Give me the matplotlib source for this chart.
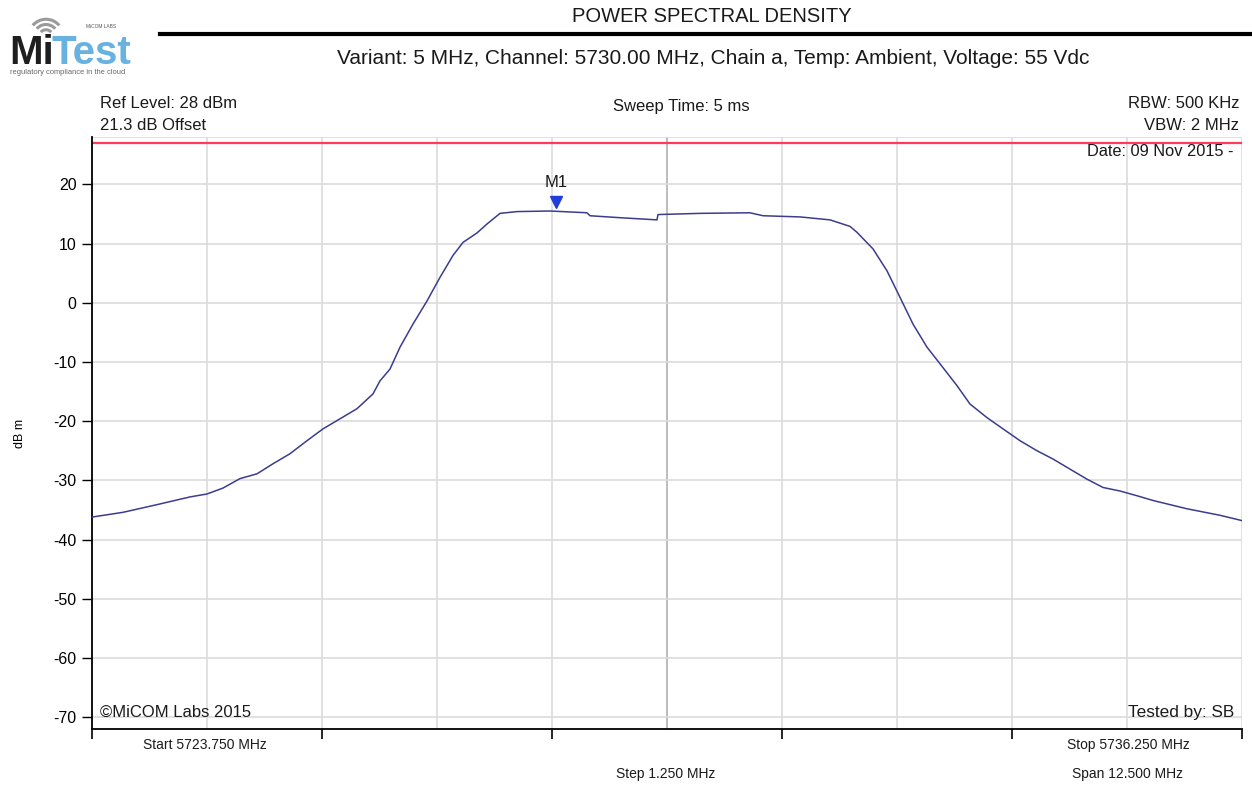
import matplotlib
matplotlib.use('Agg')
import matplotlib.pyplot as plt
from matplotlib.lines import Line2D
from matplotlib.patches import Arc
import matplotlib.transforms as mtransforms

plt.rcParams['font.family'] = ['Liberation Sans', 'DejaVu Sans']

# trace (MHz, dBm)
freq = [5723.750, 5724.087, 5724.457, 5724.815, 5725.000, 5725.174, 5725.359,
        5725.543, 5725.717, 5725.902, 5726.087, 5726.261, 5726.446, 5726.630,
        5726.804, 5726.880, 5726.989, 5727.098, 5727.239, 5727.391, 5727.533,
        5727.674, 5727.783, 5727.935, 5728.043, 5728.185, 5728.370, 5728.728,
        5729.130, 5729.163, 5729.457, 5729.891, 5729.902, 5730.359, 5730.902,
        5731.043, 5731.446, 5731.772, 5731.989, 5732.065, 5732.239, 5732.391,
        5732.533, 5732.674, 5732.826, 5732.967, 5733.152, 5733.293, 5733.478,
        5733.652, 5733.837, 5734.022, 5734.196, 5734.380, 5734.565, 5734.739,
        5734.924, 5735.109, 5735.283, 5735.652, 5736.011, 5736.250]
level = [-36.2, -35.4, -34.1, -32.8, -32.3, -31.3, -29.7,
         -28.9, -27.2, -25.5, -23.3, -21.3, -19.6, -17.9,
         -15.4, -13.2, -11.2, -7.5, -3.6, 0.3, 4.3,
         8.0, 10.2, 11.8, 13.3, 15.1, 15.4, 15.5,
         15.2, 14.7, 14.4, 14.0, 14.9, 15.1, 15.2,
         14.7, 14.5, 14.0, 12.9, 11.9, 9.1, 5.4,
         0.9, -3.6, -7.5, -10.3, -14.0, -17.1, -19.4,
         -21.3, -23.3, -25.0, -26.4, -28.1, -29.8, -31.2,
         -31.8, -32.6, -33.4, -34.8, -35.9, -36.8]

limit_level = 27
m1_freq = 5728.793
m1_level = 15.6

start_f = 5723.75
stop_f = 5736.25
step_f = 1.25
ref_level = 28
yticks = [-70, -60, -50, -40, -30, -20, -10, 0, 10, 20]

fig = plt.figure(figsize=(12.52, 7.87), dpi=100)
ax = fig.add_axes([92 / 1252, 58 / 787, 1150 / 1252, 592 / 787])

ax.set_xlim(start_f, stop_f)
ax.set_ylim(ref_level - 100, ref_level)

# grid
for i in range(11):
    f = start_f + i * step_f
    c = '#b0b0b0' if i == 5 else '#dcdcdc'
    ax.axvline(f, color=c, lw=1.2, zorder=0)
for y in yticks + [ref_level]:
    ax.axhline(y, color='#dcdcdc', lw=1.2, zorder=0)

ax.axhline(limit_level, color='#ff3a5c', lw=1.6, zorder=2)
ax.plot(freq, level, color='#3c3c8e', lw=1.1, zorder=3)

mk_tr = mtransforms.offset_copy(ax.transData, fig=fig, x=0, y=6, units='points')
ax.plot(m1_freq, m1_level, marker='v', color='#1f3ddb', ms=8, transform=mk_tr, zorder=4)
lb_tr = mtransforms.offset_copy(ax.transData, fig=fig, x=0, y=15, units='points')
ax.text(m1_freq, m1_level, 'M1', transform=lb_tr, ha='center', va='bottom',
        fontsize=12, color='#1a1a1a')

ax.set_yticks(yticks)
ax.set_yticklabels([str(v) for v in yticks], fontsize=11.5)
ax.set_xticks([start_f + i * 2 * step_f for i in range(6)])
ax.set_xticklabels([])
ax.tick_params(axis='y', direction='out', length=7, width=1, pad=4)
ax.tick_params(axis='x', direction='out', length=7, width=1.2)
for s in ['top', 'right']:
    ax.spines[s].set_visible(False)
ax.spines['left'].set_linewidth(1.3)
ax.spines['bottom'].set_linewidth(1.3)
ax.set_ylabel('dB m', fontsize=9, labelpad=20)

# texts inside plot
ax.text(0.007, 0.016, '\u00a9MiCOM Labs 2015', transform=ax.transAxes, fontsize=12,
        color='#1a1a1a', va='bottom')
ax.text(0.993, 0.016, 'Tested by: SB', transform=ax.transAxes, fontsize=12.4,
        color='#1a1a1a', va='bottom', ha='right')
ax.text(0.993, 0.988, 'Date: 09 Nov 2015 -', transform=ax.transAxes, fontsize=11.8,
        color='#1a1a1a', va='top', ha='right')


def ftext(x, y, s, **kw):
    kw.setdefault('fontsize', 12)
    kw.setdefault('color', '#1a1a1a')
    fig.text(x / 1252, 1 - y / 787, s, va='center', **kw)


ftext(712, 16, 'POWER SPECTRAL DENSITY', ha='center', fontsize=14.5)
fig.add_artist(Line2D([160 / 1252, 1], [1 - 34 / 787, 1 - 34 / 787], color='black', lw=3))
ftext(713, 58, 'Variant: 5 MHz, Channel: 5730.00 MHz, Chain a, Temp: Ambient, Voltage: 55 Vdc',
      ha='center', fontsize=15)

ftext(100, 103, 'Ref Level: 28 dBm', ha='left')
ftext(100, 125, '21.3 dB Offset', ha='left')
ftext(681, 107, 'Sweep Time: 5 ms', ha='center')
ftext(1239, 103, 'RBW: 500 KHz', ha='right')
ftext(1239, 125, 'VBW: 2 MHz', ha='right')

nar = ['Liberation Sans Narrow', 'Liberation Sans']
ftext(205, 745, 'Start 5723.750 MHz', ha='center', fontsize=10, family=nar)
ftext(1128, 745, 'Stop 5736.250 MHz', ha='center', fontsize=10, family=nar)
ftext(666, 774, 'Step 1.250 MHz', ha='center', fontsize=10, family=nar)
ftext(1128, 774, 'Span 12.500 MHz', ha='center', fontsize=10, family=nar)

# logo
ftext(9, 53, 'Mi', ha='left', fontsize=29, fontweight='bold', color='#1e1e1e', family=nar)
ftext(52, 53, 'Test', ha='left', fontsize=29, fontweight='bold', color='#68b2e2', family=nar)
ftext(86, 27, 'MiCOM LABS', ha='left', fontsize=3.5, color='#555555')
ftext(10, 73, 'regulatory compliance in the cloud', ha='left', fontsize=5.4, color='#666666')
lax = fig.add_axes([31 / 1252, 1 - 38 / 787, 30 / 1252, 24 / 787])
lax.set_xlim(-1, 1)
lax.set_ylim(0, 1.6)
lax.axis('off')
for r in [0.45, 0.8, 1.15]:
    lax.add_patch(Arc((0, 0.1), 2 * r, 2 * r, theta1=40, theta2=140, color='#9a9a9a', lw=2.2))

fig.savefig('out.png', dpi=100)
